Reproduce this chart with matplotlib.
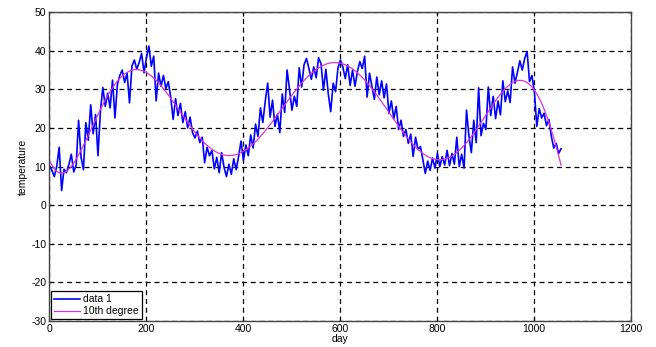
import numpy as np
import matplotlib
matplotlib.use("Agg")
import matplotlib.pyplot as plt

# daily temperature, sampled every 5 days
day = np.arange(1, 1061, 5)
temperature = [
    10.2, 9.0, 7.4, 10.1, 15.0, 3.8, 9.3, 8.4, 10.5, 13.2,
    8.6, 10.4, 22.0, 12.5, 9.2, 21.4, 16.8, 26.0, 18.5, 23.5,
    12.8, 24.2, 30.5, 25.6, 29.0, 25.2, 32.4, 22.6, 31.2, 33.6,
    35.0, 31.8, 34.2, 26.5, 36.0, 37.6, 35.2, 37.0, 39.3, 34.3,
    38.2, 41.2, 36.0, 38.6, 27.0, 34.2, 30.8, 33.6, 30.2, 32.0,
    28.0, 22.2, 27.6, 23.2, 26.4, 21.4, 24.2, 20.0, 22.8, 18.8,
    17.4, 19.2, 16.2, 17.6, 11.0, 15.0, 12.8, 14.2, 9.4, 12.4,
    8.4, 13.6, 9.8, 7.4, 10.6, 8.0, 12.0, 9.2, 12.6, 16.6,
    11.6, 15.6, 12.8, 18.2, 14.8, 21.0, 17.8, 25.2, 21.4, 27.0,
    31.6, 22.8, 27.2, 20.4, 23.6, 18.8, 28.8, 24.0, 35.0, 30.0,
    24.6, 28.2, 25.6, 35.6, 30.6, 36.4, 38.0, 35.4, 32.6, 35.8,
    33.0, 38.2, 36.6, 29.8, 35.2, 28.8, 24.2, 31.6, 29.4, 35.6,
    37.6, 35.8, 32.8, 36.4, 31.0, 35.0, 30.8, 34.6, 37.2, 35.4,
    38.6, 28.0, 34.2, 30.8, 27.4, 33.2, 28.6, 32.2, 27.8, 31.4,
    23.8, 27.0, 22.4, 25.6, 19.6, 22.0, 17.8, 19.6, 16.0, 18.4,
    12.6, 17.6, 14.4, 15.2, 11.8, 8.2, 11.4, 9.0, 12.2, 9.6,
    13.4, 10.0, 12.6, 10.4, 14.2, 10.2, 13.4, 10.6, 17.6, 10.0,
    13.2, 9.6, 24.6, 18.0, 13.6, 22.0, 16.2, 30.4, 18.0, 21.2,
    19.6, 30.6, 23.2, 28.2, 22.4, 27.0, 23.4, 32.2, 26.8, 29.6,
    26.6, 35.8, 31.6, 34.4, 37.4, 35.0, 38.0, 39.8, 32.0, 33.6,
    29.4, 20.4, 25.0, 22.6, 23.8, 20.6, 22.2, 17.8, 14.8, 16.0,
    13.4, 14.6,
]

x_ticks = [0, 200, 400, 600, 800, 1000, 1200]
y_ticks = [-30, -20, -10, 0, 10, 20, 30, 40, 50]

# 10th degree least-squares fit
fit = np.polynomial.Polynomial.fit(day, temperature, 10)
fit_x = np.linspace(day[0], day[-1], 500)

plt.rcParams["font.family"] = ["Liberation Sans", "DejaVu Sans"]
plt.rcParams["font.size"] = 7.5
plt.rcParams["axes.unicode_minus"] = False

fig = plt.figure(figsize=(6.56, 3.47), dpi=100)
ax = fig.add_axes([0.0747, 0.075, 0.887, 0.890])

ax.plot(day, temperature, color="#0000ff", linewidth=1.2, label="data 1")
ax.plot(fit_x, fit(fit_x), color="#dd33dd", linewidth=0.9, label="10th degree")

ax.set_xlim(0, 1200)
ax.set_ylim(-30, 50)
ax.set_xticks(x_ticks)
ax.set_yticks(y_ticks)
ax.grid(True, color="black", linestyle=(0, (4, 3)), linewidth=0.9)
ax.tick_params(direction="in", top=True, right=True, length=3, pad=2)
for s in ax.spines.values():
    s.set_color("#444444")
    s.set_linewidth(1.0)

ax.set_xlabel("day", labelpad=0)
ax.set_ylabel("temperature", labelpad=2)

leg = ax.legend(loc="lower left", fancybox=False, framealpha=1,
                edgecolor="black", borderpad=0.3, handlelength=2.5,
                handletextpad=0.3, labelspacing=0.2,
                borderaxespad=0.15)
leg.get_frame().set_linewidth(0.9)

fig.savefig("out.png", dpi=100)
